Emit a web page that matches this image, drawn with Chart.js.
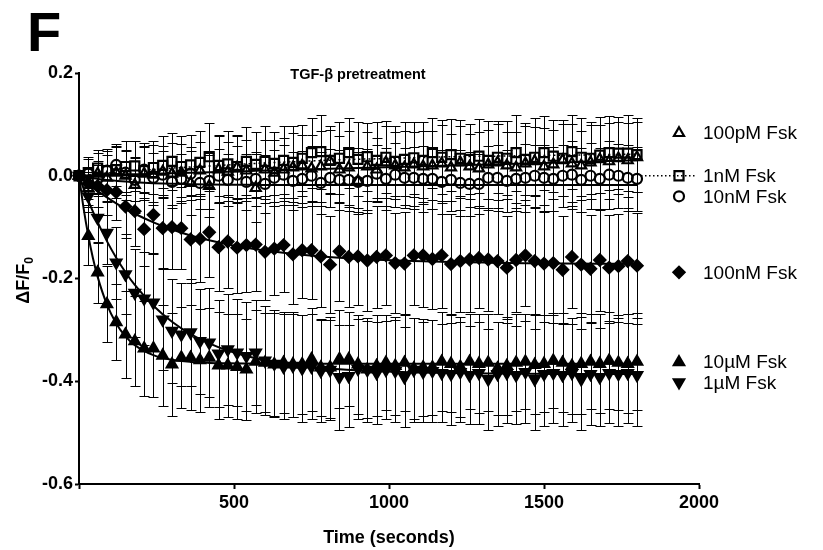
<!DOCTYPE html>
<html><head><meta charset="utf-8">
<script src="https://cdn.jsdelivr.net/npm/chart.js@4.4.1/dist/chart.umd.min.js"></script>
<style>html,body{margin:0;padding:0;background:#fff}canvas{display:block}</style>
</head><body>
<canvas id="c" width="823" height="550"></canvas>
<script>
// ---------- data ----------
const time = [0,30,60,90,120,150,180,210,240,270,
  300,330,360,390,420,450,480,510,540,570,
  600,630,660,690,720,750,780,810,840,870,
  900,930,960,990,1020,1050,1080,1110,1140,1170,
  1200,1230,1260,1290,1320,1350,1380,1410,1440,1470,
  1500,1530,1560,1590,1620,1650,1680,1710,1740,1770,
  1800];

const d100pM = [0,-0.024,0.004,-0.004,0.006,0.000,-0.018,0.004,0.002,0.008,
  0.004,0.006,-0.014,0.010,-0.020,0.012,0.008,0.016,0.010,-0.024,
  0.012,0.006,0.012,0.016,0.020,0.014,0.018,0.028,0.012,0.016,
  -0.010,0.018,0.012,0.026,0.020,0.016,0.022,0.018,0.020,0.024,
  0.016,0.026,0.018,0.014,0.022,0.026,0.020,0.016,0.024,0.028,
  0.018,0.022,0.030,0.024,0.020,0.026,0.032,0.028,0.034,0.030,
  0.036];
const d1nM = [0,0.006,0.015,0.010,0.012,0.018,0.019,0.010,0.016,0.020,
  0.028,0.018,0.021,0.026,0.037,0.020,0.023,0.018,0.028,0.022,
  0.028,0.024,0.030,0.026,0.034,0.045,0.047,0.030,0.034,0.045,
  0.032,0.037,0.030,0.036,0.028,0.032,0.035,0.030,0.045,0.036,
  0.041,0.034,0.032,0.038,0.030,0.036,0.034,0.045,0.032,0.036,
  0.045,0.038,0.034,0.047,0.036,0.034,0.040,0.045,0.044,0.044,
  0.041];
const d10nM = [0,0.004,-0.006,0.010,0.021,0.006,-0.008,0.012,-0.004,0.002,
  -0.012,-0.006,0.004,-0.014,-0.010,0.000,-0.008,0.002,-0.012,-0.006,
  -0.016,-0.004,0.002,-0.010,-0.006,0.000,-0.014,-0.004,-0.008,-0.008,
  -0.012,-0.010,0.004,-0.006,0.002,-0.004,-0.004,-0.006,-0.006,-0.012,
  -0.008,-0.014,-0.016,-0.016,-0.004,-0.004,-0.010,-0.006,-0.004,0.000,
  -0.004,-0.006,0.000,0.002,-0.008,0.000,-0.006,0.002,0.000,-0.004,
  -0.006];
const d100nM = [0,-0.015,-0.020,-0.028,-0.032,-0.060,-0.069,-0.104,-0.076,-0.102,
  -0.100,-0.102,-0.124,-0.123,-0.110,-0.139,-0.128,-0.140,-0.135,-0.134,
  -0.148,-0.142,-0.135,-0.153,-0.145,-0.145,-0.157,-0.173,-0.147,-0.158,
  -0.157,-0.165,-0.158,-0.155,-0.170,-0.171,-0.155,-0.155,-0.162,-0.155,
  -0.172,-0.166,-0.163,-0.160,-0.163,-0.166,-0.179,-0.164,-0.155,-0.166,
  -0.171,-0.170,-0.183,-0.158,-0.173,-0.181,-0.164,-0.179,-0.176,-0.166,
  -0.175];
const d10uM = [0,-0.117,-0.188,-0.250,-0.285,-0.309,-0.322,-0.336,-0.336,-0.350,
  -0.367,-0.354,-0.354,-0.359,-0.354,-0.369,-0.369,-0.372,-0.377,-0.362,
  -0.364,-0.367,-0.364,-0.367,-0.367,-0.357,-0.373,-0.373,-0.357,-0.357,
  -0.367,-0.377,-0.370,-0.364,-0.370,-0.364,-0.375,-0.373,-0.373,-0.362,
  -0.366,-0.372,-0.362,-0.366,-0.364,-0.375,-0.370,-0.364,-0.362,-0.368,
  -0.366,-0.360,-0.364,-0.370,-0.366,-0.362,-0.366,-0.360,-0.364,-0.366,
  -0.362];
const d1uM = [0,-0.040,-0.082,-0.111,-0.169,-0.192,-0.228,-0.239,-0.247,-0.280,
  -0.302,-0.309,-0.305,-0.322,-0.325,-0.346,-0.338,-0.344,-0.351,-0.344,
  -0.360,-0.366,-0.372,-0.370,-0.375,-0.372,-0.380,-0.378,-0.392,-0.390,
  -0.376,-0.378,-0.384,-0.378,-0.380,-0.392,-0.378,-0.382,-0.380,-0.384,
  -0.386,-0.382,-0.388,-0.384,-0.396,-0.386,-0.384,-0.388,-0.382,-0.396,
  -0.386,-0.384,-0.388,-0.384,-0.396,-0.386,-0.392,-0.384,-0.386,-0.384,
  -0.388];

// standard errors
const e100pM = [0,0.032,0.040,0.045,0.050,0.048,0.055,0.052,0.058,0.050,
  0.060,0.056,0.062,0.055,0.060,0.065,0.058,0.062,0.060,0.066,
  0.058,0.064,0.062,0.068,0.060,0.066,0.070,0.062,0.066,0.072,
  0.064,0.068,0.062,0.070,0.066,0.072,0.064,0.070,0.068,0.074,
  0.066,0.070,0.064,0.072,0.068,0.074,0.066,0.070,0.072,0.066,
  0.074,0.068,0.070,0.076,0.068,0.072,0.066,0.074,0.070,0.072,
  0.068];
const e1nM = [0,0.030,0.036,0.042,0.046,0.050,0.048,0.054,0.052,0.058,
  0.055,0.060,0.058,0.062,0.066,0.060,0.064,0.062,0.066,0.064,
  0.068,0.062,0.066,0.070,0.064,0.068,0.072,0.066,0.070,0.068,
  0.072,0.066,0.074,0.070,0.068,0.072,0.070,0.074,0.068,0.072,
  0.070,0.074,0.068,0.072,0.076,0.070,0.072,0.074,0.070,0.076,
  0.072,0.070,0.074,0.072,0.076,0.070,0.074,0.072,0.070,0.074,
  0.072];
const e10nM = [0,0.028,0.034,0.038,0.040,0.044,0.042,0.046,0.048,0.046,
  0.050,0.048,0.052,0.050,0.054,0.052,0.050,0.056,0.054,0.052,
  0.056,0.054,0.058,0.056,0.054,0.058,0.060,0.056,0.058,0.060,
  0.058,0.062,0.056,0.060,0.062,0.058,0.060,0.064,0.058,0.062,
  0.060,0.064,0.062,0.058,0.062,0.064,0.060,0.062,0.066,0.060,
  0.064,0.062,0.060,0.066,0.062,0.064,0.060,0.066,0.062,0.064,
  0.062];
const e100nM = [0,0.030,0.040,0.048,0.055,0.062,0.068,0.072,0.075,0.078,
  0.082,0.080,0.085,0.083,0.088,0.086,0.090,0.088,0.092,0.090,
  0.094,0.090,0.092,0.096,0.092,0.095,0.098,0.094,0.096,0.098,
  0.094,0.098,0.100,0.096,0.098,0.100,0.096,0.100,0.098,0.102,
  0.098,0.100,0.102,0.098,0.100,0.104,0.100,0.102,0.098,0.104,
  0.100,0.102,0.104,0.100,0.102,0.104,0.100,0.103,0.101,0.104,
  0.102];
const e10uM = [0,0.056,0.060,0.074,0.074,0.085,0.088,0.092,0.095,0.098,
  0.100,0.098,0.102,0.100,0.096,0.104,0.100,0.102,0.098,0.100,
  0.096,0.100,0.098,0.102,0.096,0.100,0.094,0.098,0.096,0.092,
  0.096,0.094,0.098,0.092,0.096,0.094,0.098,0.094,0.092,0.096,
  0.094,0.098,0.092,0.096,0.094,0.090,0.096,0.094,0.092,0.096,
  0.094,0.092,0.096,0.094,0.098,0.092,0.096,0.094,0.092,0.096,
  0.094];
const e1uM = [0,0.030,0.048,0.060,0.070,0.078,0.085,0.090,0.094,0.098,
  0.102,0.100,0.104,0.102,0.106,0.104,0.108,0.104,0.106,0.102,
  0.106,0.104,0.102,0.100,0.104,0.102,0.100,0.098,0.102,0.100,
  0.098,0.102,0.100,0.096,0.100,0.098,0.102,0.098,0.100,0.096,
  0.100,0.098,0.096,0.100,0.098,0.102,0.098,0.096,0.100,0.098,
  0.102,0.098,0.100,0.096,0.098,0.100,0.096,0.098,0.102,0.098,
  0.100];

// fitted curves
const fitTimes = [0,15,30,45,60,90,120,150,180,240,300,360,420,480,540,600,720,840,960,1080,1200,1320,1440,1560,1680,1800];
const fit100pM = [0,0.000,0.001,0.001,0.001,0.002,0.002,0.003,0.003,0.004,0.005,0.006,0.007,0.008,0.009,0.010,0.012,0.014,0.016,0.018,0.020,0.022,0.024,0.026,0.028,0.030];
const fit1nM = [0,0.001,0.002,0.003,0.004,0.005,0.007,0.008,0.010,0.012,0.015,0.017,0.019,0.021,0.023,0.025,0.028,0.031,0.033,0.035,0.037,0.038,0.039,0.040,0.041,0.042];
const fit10nM = [0,-0.0017,-0.0033,-0.0047,-0.006,-0.0083,-0.0099,-0.0114,-0.0126,-0.0144,-0.0156,-0.0164,-0.0171,-0.0175,-0.0177,-0.0178,-0.018,-0.018,-0.018,-0.018,-0.018,-0.018,-0.018,-0.018,-0.018,-0.018];
const fit100nM = [0,-0.0079,-0.0154,-0.0226,-0.0294,-0.0422,-0.0538,-0.0644,-0.0740,-0.0907,-0.1046,-0.1162,-0.1257,-0.1336,-0.1402,-0.1456,-0.1539,-0.1595,-0.1634,-0.1661,-0.1680,-0.1692,-0.1701,-0.1707,-0.1711,-0.1714];
const fit10uM = [0,-0.0640,-0.1169,-0.1605,-0.1964,-0.2505,-0.2874,-0.3125,-0.3296,-0.3491,-0.3582,-0.3624,-0.3643,-0.3652,-0.3656,-0.3658,-0.3660,-0.3660,-0.3660,-0.3660,-0.3660,-0.3660,-0.3660,-0.3660,-0.3660,-0.3660];
const fit1uM = [0,-0.0249,-0.0482,-0.0700,-0.0904,-0.1273,-0.1596,-0.1878,-0.2126,-0.2531,-0.2842,-0.3081,-0.3263,-0.3403,-0.3510,-0.3592,-0.3703,-0.3768,-0.3806,-0.3828,-0.3841,-0.3849,-0.3854,-0.3857,-0.3859,-0.3859];

const labels = ['100pM Fsk','1nM Fsk','10nM Fsk','100nM Fsk','10\u00b5M Fsk','1\u00b5M Fsk'];
const legendY = [0.083, 0.0, -0.040, -0.188, -0.363, -0.402];
const xTicks = [500,1000,1500,2000];
const yTicks = [0.2,0.0,-0.2,-0.4,-0.6];
const titleText = 'TGF-\u03b2 pretreatment';
const xTitle = 'Time (seconds)';
const panelLetter = 'F';

// ---------- styles ----------
const FONT = '"Liberation Sans", Arial, Helvetica, sans-serif';
const seriesVals = [d100pM, d1nM, d10nM, d100nM, d10uM, d1uM];
const seriesErr  = [e100pM, e1nM, e10nM, e100nM, e10uM, e1uM];
const seriesFit  = [fit100pM, fit1nM, fit10nM, fit100nM, fit10uM, fit1uM];
const marker = [
  {pointStyle:'triangle', rotation:0,   radius:5.8, filled:false},
  {pointStyle:'rect',     rotation:0,   radius:6.4, filled:false},
  {pointStyle:'circle',   rotation:0,   radius:5.0, filled:false},
  {pointStyle:'rectRot',  rotation:0,   radius:5.6, filled:true},
  {pointStyle:'triangle', rotation:0,   radius:6.0, filled:true},
  {pointStyle:'triangle', rotation:180, radius:6.0, filled:true}
];
const fitDash = [[],[2,3],[],[],[],[]];

const datasets = [];
seriesFit.forEach((f,k)=>{
  datasets.push({
    type:'line', data: fitTimes.map((t,i)=>({x:t,y:f[i]})),
    borderColor:'#000', borderWidth: k===1?1.5:2, borderDash: fitDash[k],
    pointRadius:0, fill:false, cubicInterpolationMode:'monotone', showLine:true, order:2
  });
});
seriesVals.forEach((v,k)=>{
  const m = marker[k];
  datasets.push({
    type:'scatter', label: labels[k], data: time.map((t,i)=>({x:t,y:v[i]})),
    pointStyle:m.pointStyle, pointRotation:m.rotation, pointRadius:m.radius,
    pointBorderWidth:2.2, pointBorderColor:'#000',
    pointBackgroundColor: m.filled ? '#000' : 'rgba(0,0,0,0)',
    showLine:false, clip:false, order:1
  });
});

function ptDraw(ctx, m, x, y){
  ctx.save();
  ctx.fillStyle = m.filled ? '#000' : 'rgba(0,0,0,0)';
  ctx.strokeStyle = '#000'; ctx.lineWidth = 2.2;
  if (Chart.helpers && Chart.helpers.drawPoint) {
    Chart.helpers.drawPoint(ctx, {pointStyle:m.pointStyle, rotation:m.rotation, radius:m.radius, borderWidth:2.2}, x, y);
  }
  ctx.restore();
}

const errorBars = {
  id:'errorBars',
  beforeDatasetsDraw(chart){
    const {ctx, scales:{x,y}} = chart;
    ctx.save(); ctx.strokeStyle='#000'; ctx.lineWidth=1;
    seriesVals.forEach((vals,k)=>{
      const err = seriesErr[k];
      vals.forEach((v,i)=>{
        const e = err[i]; if(!e) return;
        const px = Math.round(x.getPixelForValue(time[i]))+0.5;
        const yt = Math.round(y.getPixelForValue(v+e))+0.5;
        const yb = Math.round(y.getPixelForValue(v-e))+0.5;
        ctx.beginPath();
        ctx.moveTo(px,yt); ctx.lineTo(px,yb);
        ctx.moveTo(px-5,yt); ctx.lineTo(px+5,yt);
        ctx.moveTo(px-5,yb); ctx.lineTo(px+5,yb);
        ctx.stroke();
      });
    });
    ctx.restore();
  }
};

const decorations = {
  id:'decorations',
  afterDraw(chart){
    const {ctx, chartArea:a, scales:{x,y}} = chart;
    ctx.save();
    ctx.fillStyle='#000';
    // panel letter
    ctx.font = 'bold 56px '+FONT; ctx.textAlign='left'; ctx.textBaseline='alphabetic';
    ctx.fillText(panelLetter, 27, 51);
    // title
    ctx.font = 'bold 14.5px '+FONT; ctx.textAlign='center';
    ctx.fillText(titleText, x.getPixelForValue(900), 79);
    // x title
    ctx.font = 'bold 18px '+FONT; ctx.textBaseline='middle';
    ctx.fillText(xTitle, (a.left+a.right)/2, 538);
    // y title  ΔF/F0
    ctx.save();
    ctx.translate(29, (a.top+a.bottom)/2 + 2);
    ctx.rotate(-Math.PI/2);
    ctx.textBaseline='alphabetic'; ctx.textAlign='left';
    ctx.font = 'bold 18px '+FONT;
    const main = '\u0394F/F';
    const w1 = ctx.measureText(main).width;
    ctx.font = 'bold 12px '+FONT;
    const w2 = ctx.measureText('0').width;
    const x0 = -(w1+w2)/2;
    ctx.font = 'bold 18px '+FONT; ctx.fillText(main, x0, 0);
    ctx.font = 'bold 12px '+FONT; ctx.fillText('0', x0+w1, 4);
    ctx.restore();
    // legend
    ctx.font = '19px '+FONT; ctx.textAlign='left'; ctx.textBaseline='middle';
    labels.forEach((lab,k)=>{
      const py = y.getPixelForValue(legendY[k]);
      const mx = a.right - 20;
      if (k===1){
        ctx.save(); ctx.strokeStyle='#000'; ctx.lineWidth=1.5; ctx.setLineDash([1.5,2.5]);
        ctx.beginPath(); ctx.moveTo(a.right-58, py); ctx.lineTo(a.right-2, py); ctx.stroke();
        ctx.restore();
      }
      ptDraw(ctx, marker[k], mx, py);
      ctx.fillStyle='#000';
      ctx.fillText(lab, a.right + 4, py+1);
    });
    ctx.restore();
  }
};

Chart.defaults.font.family = FONT;
Chart.defaults.color = '#000';

new Chart(document.getElementById('c'), {
  type:'scatter',
  data:{datasets},
  options:{
    responsive:false, animation:false, devicePixelRatio:1,
    layout:{padding:{top:73, right:124, bottom:0, left:0}},
    plugins:{legend:{display:false}, tooltip:{enabled:false}},
    scales:{
      x:{
        type:'linear', min:0, max:2000,
        afterBuildTicks(s){ s.ticks = [0].concat(xTicks).map(v=>({value:v})); },
        afterFit(s){ s.height = 66; },
        ticks:{ font:{size:18, weight:'bold'}, color:'#000', padding:3, maxRotation:0,
          callback:(v)=> v===0 ? '' : String(v) },
        grid:{ drawOnChartArea:false, drawTicks:true, tickLength:5, tickColor:'#000', tickWidth:2 },
        border:{ display:true, color:'#000', width:2 }
      },
      y:{
        type:'linear', min:-0.6, max:0.2,
        afterBuildTicks(s){ s.ticks = yTicks.map(v=>({value:v})); },
        afterFit(s){ s.width = 79; },
        ticks:{ font:{size:18, weight:'bold'}, color:'#000', padding:2,
          callback:(v)=> Number(v).toFixed(1) },
        grid:{ drawOnChartArea:false, drawTicks:true, tickLength:4, tickColor:'#000', tickWidth:2 },
        border:{ display:true, color:'#000', width:2 }
      }
    }
  },
  plugins:[errorBars, decorations]
});
</script>
</body></html>
